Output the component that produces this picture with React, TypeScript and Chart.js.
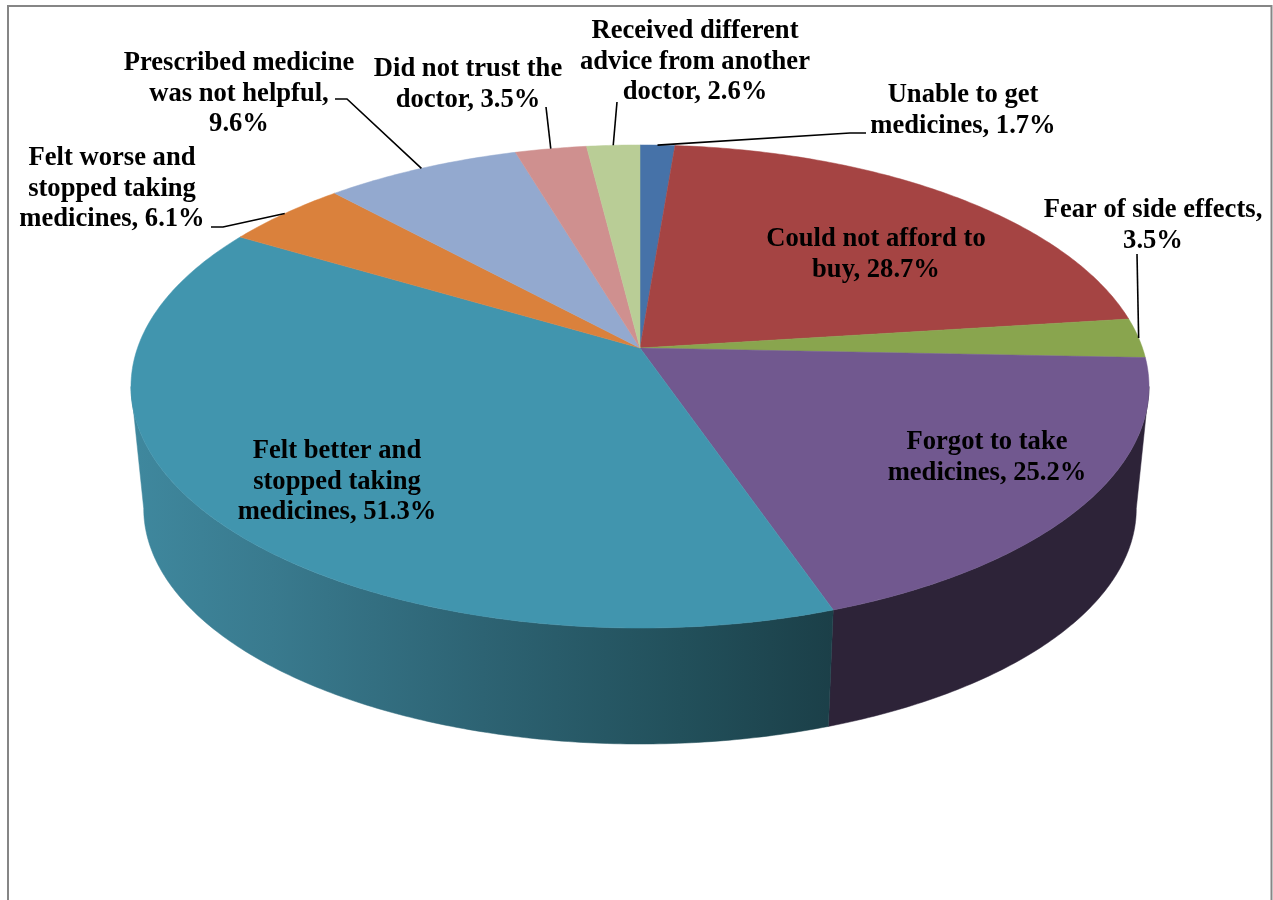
import React, { useEffect, useRef } from "react";
import { Chart, registerables } from "chart.js";

Chart.register(...registerables);

// Reasons for not completing a course of medicine (percent of respondents)
const reasons = [
  "Unable to get medicines",
  "Could not afford to buy",
  "Fear of side effects",
  "Forgot to take medicines",
  "Felt better and stopped taking medicines",
  "Felt worse and stopped taking medicines",
  "Prescribed medicine was not helpful",
  "Did not trust the doctor",
  "Received different advice from another doctor",
];
const percents = [1.7, 28.7, 3.5, 25.2, 51.3, 6.1, 9.6, 3.5, 2.6];
const sliceColours = ["#4672A8", "#A54443", "#89A54E", "#71588F", "#4195AE", "#DA813C", "#93A9CF", "#CF908F", "#B9CD96"];

// Wrapped label text; {v} stands for the slice's formatted value
const labelTemplates = [
  "Unable to get\nmedicines, {v}",
  "Could not afford to\nbuy, {v}",
  "Fear of side effects,\n{v}",
  "Forgot to take\nmedicines, {v}",
  "Felt better and\nstopped taking\nmedicines, {v}",
  "Felt worse and\nstopped taking\nmedicines, {v}",
  "Prescribed medicine\nwas not helpful,\n{v}",
  "Did not trust the\ndoctor, {v}",
  "Received different\nadvice from another\ndoctor, {v}",
];

// Label placement: centre x and first baseline
const labelCentreX = [963, 876, 1153, 987, 337, 112, 239, 468, 695];
const labelBaseline = [102, 246, 217, 449, 458, 165, 70, 76, 38];
// Leader polyline from the label side towards the rim (null for labels on the slice)
const leaderStart: (number[][] | null)[] = [
  [[866, 133], [850, 133]],
  null,
  [[1137, 254]],
  null,
  null,
  [[211, 227], [223, 227]],
  [[335, 99], [347, 99]],
  [[546, 107]],
  [[617, 102]],
];

// Perspective camera for the tilted disc
const CX = 640;
const TOP_Y = 348;
const SCALE_X = 502.5;
const SCALE_Y = 235.4;
const TILT = 0.1594;
const BASE_Y = 471;
const BASE_SCALE = 0.975;
const LINE_HEIGHT = 30.7;
const FONT = 'bold 26.6px "Liberation Serif"';

const topPoint = (theta: number, r = 1): [number, number] => {
  const u = Math.sin(theta) * r;
  const v = Math.cos(theta) * r;
  const w = 1 + TILT * v;
  return [CX + (SCALE_X * u) / w, TOP_Y - (SCALE_Y * v) / w];
};

const basePoint = (theta: number): [number, number] => {
  const u = Math.sin(theta);
  const v = Math.cos(theta);
  const w = 1 + TILT * v;
  return [CX + (BASE_SCALE * SCALE_X * u) / w, BASE_Y - (BASE_SCALE * SCALE_Y * v) / w];
};

// Angle range of the side wall facing the viewer
const FRONT_START = Math.PI - Math.acos(TILT);
const FRONT_END = Math.PI + Math.acos(TILT);

const wallPaint = (ctx: CanvasRenderingContext2D, index: number): string | CanvasGradient => {
  if (index === 3) return "#2D2338";
  const g = ctx.createLinearGradient(131, 0, 835, 0);
  g.addColorStop(0, "#3F889E");
  g.addColorStop(0.2, "#397A8E");
  g.addColorStop(0.5, "#2D6373");
  g.addColorStop(0.78, "#22505B");
  g.addColorStop(1, "#1B3F48");
  return g;
};

const tiltedPie = {
  id: "tiltedPie",
  beforeDraw(chart: Chart) {
    const { ctx } = chart;
    ctx.save();
    ctx.strokeStyle = "#868686";
    ctx.lineWidth = 2;
    ctx.beginPath();
    ctx.moveTo(8, 900);
    ctx.lineTo(8, 6);
    ctx.lineTo(1271.5, 6);
    ctx.lineTo(1271.5, 900);
    ctx.stroke();
    ctx.restore();
  },
  beforeDatasetDraw(chart: Chart, args: { index: number; meta: any }) {
    const { ctx } = chart;
    const arcs = args.meta.data as any[];
    const colours = chart.data.datasets[args.index].backgroundColor as string[];
    const angles = arcs.map((a) => [a.startAngle + Math.PI / 2, a.endAngle + Math.PI / 2]);
    ctx.save();

    // Side wall, only the part turned towards the viewer
    angles.forEach(([a0, a1], i) => {
      const from = Math.max(a0, FRONT_START);
      const to = Math.min(a1, FRONT_END);
      if (to <= from) return;
      const steps = Math.ceil((to - from) * 90);
      const top: [number, number][] = [];
      const bottom: [number, number][] = [];
      for (let s = 0; s <= steps; s++) {
        const t = from + ((to - from) * s) / steps;
        top.push(topPoint(t));
        bottom.push(basePoint(t));
      }
      ctx.beginPath();
      top.forEach(([x, y], k) => (k ? ctx.lineTo(x, y) : ctx.moveTo(x, y)));
      bottom.reverse().forEach(([x, y]) => ctx.lineTo(x, y));
      ctx.closePath();
      const paint = wallPaint(ctx, i);
      ctx.fillStyle = paint;
      ctx.strokeStyle = paint;
      ctx.lineWidth = 0.5;
      ctx.fill();
      ctx.stroke();
    });

    // Top face
    angles.forEach(([a0, a1], i) => {
      const steps = Math.max(8, Math.ceil((a1 - a0) * 90));
      ctx.beginPath();
      ctx.moveTo(CX, TOP_Y);
      for (let s = 0; s <= steps; s++) {
        const [x, y] = topPoint(a0 + ((a1 - a0) * s) / steps);
        ctx.lineTo(x, y);
      }
      ctx.closePath();
      ctx.fillStyle = colours[i];
      ctx.strokeStyle = colours[i];
      ctx.lineWidth = 0.5;
      ctx.fill();
      ctx.stroke();
    });
    ctx.restore();
    return false;
  },
  afterDatasetsDraw(chart: Chart) {
    const { ctx } = chart;
    const arcs = chart.getDatasetMeta(0).data as any[];
    ctx.save();

    // Leader lines run from the label to the rim at the slice's mid angle
    ctx.strokeStyle = "#000";
    ctx.lineWidth = 1.6;
    arcs.forEach((arc, i) => {
      const path = leaderStart[i];
      if (!path) return;
      const [ex, ey] = topPoint((arc.startAngle + arc.endAngle) / 2 + Math.PI / 2);
      ctx.beginPath();
      path.forEach(([x, y], k) => (k ? ctx.lineTo(x, y) : ctx.moveTo(x, y)));
      ctx.lineTo(ex, ey);
      ctx.stroke();
    });

    ctx.fillStyle = "#000";
    ctx.font = FONT;
    ctx.textAlign = "center";
    ctx.textBaseline = "alphabetic";
    labelTemplates.forEach((tpl, i) => {
      const text = tpl.replace("{v}", `${percents[i].toFixed(1)}%`);
      text.split("\n").forEach((line, k) => {
        ctx.fillText(line, labelCentreX[i], labelBaseline[i] + k * LINE_HEIGHT);
      });
    });
    ctx.restore();
  },
};

export default function App() {
  const ref = useRef<HTMLCanvasElement>(null);

  useEffect(() => {
    document.body.style.margin = "0";
    const chart = new Chart(ref.current!, {
      type: "pie",
      data: {
        labels: reasons,
        datasets: [{ data: percents, backgroundColor: sliceColours }],
      },
      options: {
        animation: false,
        responsive: false,
        plugins: { legend: { display: false }, tooltip: { enabled: false } },
      },
      plugins: [tiltedPie as any],
    });
    return () => chart.destroy();
  }, []);

  return (
    <canvas
      ref={ref}
      width={1273}
      height={900}
      style={{ display: "block", background: "#fff" }}
    />
  );
}
